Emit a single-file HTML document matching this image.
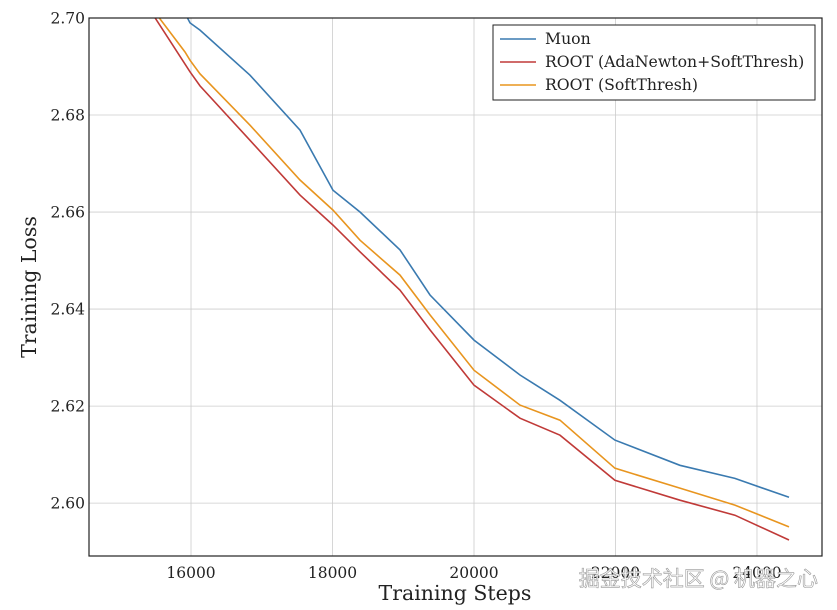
<!DOCTYPE html>
<html><head><meta charset="utf-8"><style>
html,body{margin:0;padding:0;background:#fff;}
svg{display:block;font-family:"DejaVu Serif","Liberation Serif",serif;}
</style></head><body>
<svg id="chart" width="837" height="610">
<defs><clipPath id="clip"><rect x="89" y="18" width="733" height="538"/></clipPath></defs>
<g id="grid"></g>
<g id="series" clip-path="url(#clip)"></g>
<rect x="89" y="18" width="733" height="538" fill="none" stroke="#222" stroke-width="1.2"/>
<g id="ticks"></g>
<text x="455" y="600" font-size="20.5" text-anchor="middle" fill="#222">Training Steps</text>
<text x="36" y="287" font-size="20.5" text-anchor="middle" fill="#222" transform="rotate(-90 36 287)">Training Loss</text>
<g>
<rect x="493" y="25" width="322" height="75" fill="#fff" stroke="#222" stroke-width="1"/>
<g id="legend"></g>
</g>
<text x="818" y="586" font-size="21" text-anchor="end" fill="#fff" stroke="#999" stroke-width="0.6" font-family="'Noto Sans CJK SC',sans-serif">掘金技术社区 @ 机器之心</text>
</svg>
<script>
const steps = [15000,15448,15915,15986,16127,16834,17540,18007,18388,18954,19378,20000,20650,21215,21992,22911,23688,24452];
const muon = [2.702,2.702,2.701,2.699,2.6975,2.6882,2.6769,2.6645,2.6600,2.6522,2.6429,2.6336,2.6264,2.6212,2.6130,2.6078,2.6051,2.6012];
const rootAda = [2.702,2.701,2.6905,2.6889,2.6860,2.6748,2.6635,2.6573,2.6518,2.6439,2.6357,2.6243,2.6175,2.6140,2.6047,2.6006,2.5975,2.5924];
const rootSoft = [2.702,2.702,2.693,2.6913,2.6885,2.6779,2.6666,2.6604,2.6542,2.6470,2.6388,2.6274,2.6202,2.6171,2.6072,2.6031,2.5996,2.5951];
const xTicks = [16000,18000,20000,22000,24000];
const yTicks = [2.60,2.62,2.64,2.66,2.68,2.70];
const seriesNames = ["Muon","ROOT (AdaNewton+SoftThresh)","ROOT (SoftThresh)"];
const seriesColors = ["#3a7ab0","#c03a38","#e8951f"];

const X0=89,X1=822,Y0=18,Y1=556;
const xmin=14558,xmax=24919,ymin=2.5891,ymax=2.70;
const sx=v=>X0+(v-xmin)/(xmax-xmin)*(X1-X0);
const sy=v=>Y1-(v-ymin)/(ymax-ymin)*(Y1-Y0);
const NS="http://www.w3.org/2000/svg";
function mk(t,a,p){const e=document.createElementNS(NS,t);for(const k in a)e.setAttribute(k,a[k]);p.appendChild(e);return e;}
const grid=document.getElementById('grid'),ticks=document.getElementById('ticks');
xTicks.forEach(t=>{const x=sx(t);
 const g=mk('line',{x1:x,x2:x,y1:Y0,y2:Y1,stroke:'#ccc','stroke-width':0.8},grid);
 
 
 const l=mk('text',{x:x,y:Y1+22,'font-size':15.5,'text-anchor':'middle',fill:'#222'},ticks);l.textContent=t;
 
 
});
yTicks.forEach(t=>{const y=sy(t);
 const g=mk('line',{x1:X0,x2:X1,y1:y,y2:y,stroke:'#ccc','stroke-width':0.8},grid);
 
 
 const l=mk('text',{x:X0-4,y:y+5.5,'font-size':15.5,'text-anchor':'end',fill:'#222'},ticks);l.textContent=t.toFixed(2);
 
 
});
const ser=document.getElementById('series');
[muon,rootAda,rootSoft].forEach((vals,i)=>{
 const d=vals.map((v,j)=>(j?'L':'M')+sx(steps[j]).toFixed(1)+','+sy(v).toFixed(1)).join('');
 const p=mk('path',{d:d,fill:'none',stroke:seriesColors[i],'stroke-width':1.6},ser);
 
 
});
const leg=document.getElementById('legend');
seriesNames.forEach((n,i)=>{const y=39+i*23;
 const ln=mk('line',{x1:500,x2:536,y1:y,y2:y,stroke:seriesColors[i],'stroke-width':1.6},leg);
 
 
 const t=mk('text',{x:545,y:y+5,'font-size':15.7,fill:'#222'},leg);t.textContent=n;
 
 
});
</script>
</body></html>
